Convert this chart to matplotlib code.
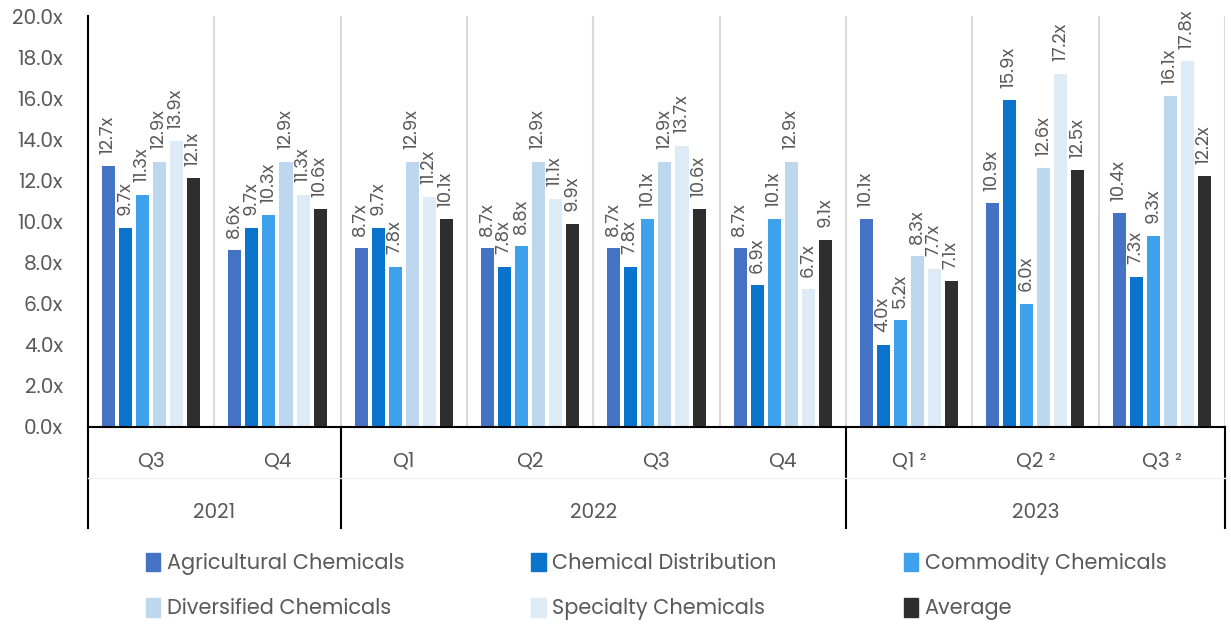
import matplotlib
matplotlib.use("Agg")
import matplotlib.pyplot as plt
import numpy as np
from matplotlib.transforms import blended_transform_factory
from matplotlib.patches import Patch

plt.rcParams['font.family'] = ['Poppins', 'Lato', 'DejaVu Sans']

quarters = ["Q3", "Q4", "Q1", "Q2", "Q3", "Q4", "Q1 ²", "Q2 ²", "Q3 ²"]
years = ["2021", "2022", "2023"]
year_spans = [(0, 2), (2, 6), (6, 9)]

series_names = ["Agricultural Chemicals", "Chemical Distribution", "Commodity Chemicals",
                "Diversified Chemicals", "Specialty Chemicals", "Average"]
agricultural = [12.7, 8.6, 8.7, 8.7, 8.7, 8.7, 10.1, 10.9, 10.4]
distribution = [9.7, 9.7, 9.7, 7.8, 7.8, 6.9, 4.0, 15.9, 7.3]
commodity = [11.3, 10.3, 7.8, 8.8, 10.1, 10.1, 5.2, 6.0, 9.3]
diversified = [12.9, 12.9, 12.9, 12.9, 12.9, 12.9, 8.3, 12.6, 16.1]
specialty = [13.9, 11.3, 11.2, 11.1, 13.7, 6.7, 7.7, 17.2, 17.8]
average = [12.1, 10.6, 10.1, 9.9, 10.6, 9.1, 7.1, 12.5, 12.2]
series = [agricultural, distribution, commodity, diversified, specialty, average]
colors = ["#4472C4", "#0A73CC", "#3EA1EB", "#BDD7EE", "#DDEBF7", "#2E2E2E"]

yticks = np.arange(0, 21, 2)

fig = plt.figure(figsize=(12.31, 6.24), dpi=100)
ax = fig.add_axes([0.0715, 0.316, 0.9235, 0.658])

n = len(quarters)
x = np.arange(n)
pitch = 17 / 126
bw = 13 / 126
text_c = "#595959"
for i, (vals, c) in enumerate(zip(series, colors)):
    pos = x + (i - 2.5) * pitch
    ax.bar(pos, vals, width=bw, color=c, zorder=3)
    for p, v in zip(pos, vals):
        ax.annotate(f"{v:.1f}x", (p, v), xytext=(0, 9), textcoords="offset points",
                    rotation=90, ha="center", va="bottom", fontsize=13, color=text_c)

ax.set_xlim(-0.5, n - 0.5)
ax.set_ylim(0, 20)
ax.set_yticks(yticks)
ax.set_yticklabels([f"{v:.1f}x" for v in yticks], fontsize=14.5, color=text_c)
ax.tick_params(axis="y", length=0, pad=18)
ax.set_xticks([])
for s in ["top", "right", "bottom"]:
    ax.spines[s].set_visible(False)
ax.spines["left"].set_color("black")
ax.spines["left"].set_linewidth(1.5)

# vertical separators in plot area
for b in np.arange(0.5, n, 1.0):
    ax.axvline(b, color="#D9D9D9", lw=1.5, zorder=1)

tr = blended_transform_factory(ax.transData, ax.transAxes)
# bottom axis line
ax.plot([-0.5, n - 0.5], [0, 0], transform=tr, color="black", lw=1.5, clip_on=False, zorder=4)
# category table
tbl_bottom = -101 / 411
for b in [-0.5, 1.5, 5.5, n - 0.5]:
    ax.plot([b, b], [0, tbl_bottom], transform=tr, color="black", lw=1.5, clip_on=False)
ax.plot([-0.5, n - 0.5], [-51 / 411, -51 / 411], transform=tr, color="#F2F2F2", lw=1, clip_on=False)
for xi, q in zip(x, quarters):
    ax.text(xi, -35 / 411, q, transform=tr, ha="center", va="center", fontsize=14.5, color=text_c)
for (a, b), y in zip(year_spans, years):
    ax.text((a + b - 1) / 2, -86 / 411, y, transform=tr, ha="center", va="center", fontsize=14.5, color=text_c)

handles = [Patch(color=c, label=nm) for c, nm in zip(colors, series_names)]
order = [0, 3, 1, 4, 2, 5]
fig.legend([handles[i] for i in order], [series_names[i] for i in order], ncol=3,
           loc="center", bbox_to_anchor=(0.533, 0.06), frameon=False, fontsize=15,
           handlelength=0.7, handleheight=1.0, handletextpad=0.3, columnspacing=6.1,
           labelspacing=1.1, labelcolor=text_c)

fig.savefig("out.png", dpi=100)
